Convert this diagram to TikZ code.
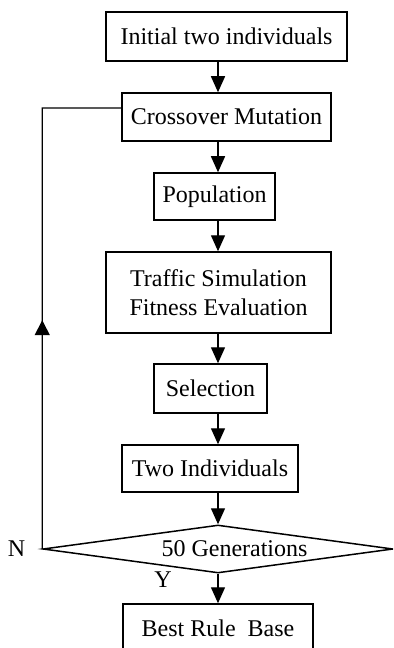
\documentclass[tikz,border=0pt]{standalone}
\usepackage{fontspec}
\setmainfont{Liberation Serif}
\usetikzlibrary{arrows.meta,shapes.geometric,decorations.markings}
\begin{document}
\begin{tikzpicture}[x=1bp,y=-1bp,
  every node/.style={font=\fontsize{24bp}{29bp}\selectfont},
  box/.style={draw,line width=1.5bp,rectangle,inner sep=0pt},
  flow/.style={line width=1.4bp,-{Triangle[length=16bp,width=14bp]}},
  loopline/.style={line width=1.4bp}]
\clip (0,0) rectangle (393,648);
\fill[white] (0,0) rectangle (393,648);
\node[box,minimum width=241bp,minimum height=49bp] (b1) at (226.5,36.5) {Initial two individuals};
\node[box,minimum width=209bp,minimum height=48bp] (b2) at (226.5,117) {Crossover Mutation};
\node[box,minimum width=121bp,minimum height=47bp] (b3) at (214.5,196.5) {Population};
\node[box,minimum width=225bp,minimum height=81bp,align=center] (b4) at (218.5,292.5) {Traffic Simulation\\Fitness Evaluation};
\node[box,minimum width=113bp,minimum height=49bp] (b5) at (210.5,388.5) {Selection};
\node[box,minimum width=176bp,minimum height=47bp] (b6) at (210,468.5) {Two Individuals};
\node[draw,line width=1.5bp,diamond,aspect=7.3,inner sep=0pt,minimum width=350bp,minimum height=48bp] (dia) at (218,549) {};
\node[inner sep=0pt] (dtxt) at (234.5,549) {50 Generations};
\node[box,minimum width=190bp,minimum height=48bp] (b7) at (218,628) {Best Rule\ \ Base};
\node[inner sep=0pt] (nlab) at (16.5,549) {N};
\node[inner sep=0pt] (ylab) at (163,580) {Y};
\coordinate (ax) at (218,0);
\coordinate (lc) at (42,108);
\draw[flow] (b1.south -| ax) -- (b2.north -| ax);
\draw[flow] (b2.south -| ax) -- (b3.north -| ax);
\draw[flow] (b3.south -| ax) -- (b4.north -| ax);
\draw[flow] (b4.south -| ax) -- (b5.north -| ax);
\draw[flow] (b5.south -| ax) -- (b6.north -| ax);
\draw[flow] (b6.south -| ax) -- (dia.north);
\draw[flow] (dia.south) -- (b7.north -| ax);
\draw[loopline,postaction={decorate},decoration={markings,
  mark=at position 0.44 with {\arrow{Triangle[length=15bp,width=15bp]}}}]
  (dia.west) -- (dia.west |- lc) -- ([yshift=9bp]b2.west);
\end{tikzpicture}
\end{document}
